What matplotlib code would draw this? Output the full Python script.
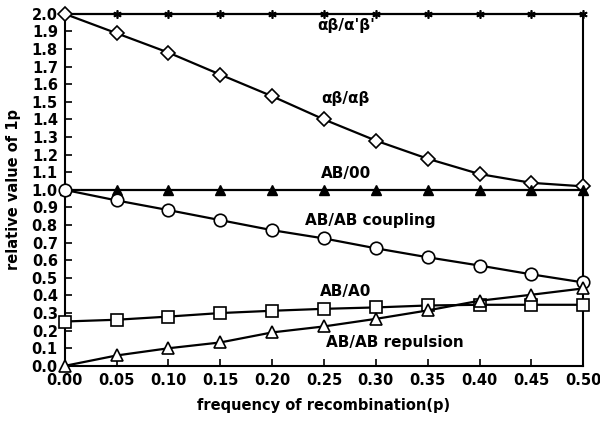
import matplotlib
matplotlib.use("Agg")
import matplotlib.pyplot as plt
import numpy as np

p = [0.00, 0.05, 0.10, 0.15, 0.20, 0.25, 0.30, 0.35, 0.40, 0.45, 0.50]
ab_apbp = [2.0] * 11
ab_ab = [2.0, 1.89, 1.78, 1.655, 1.532, 1.40, 1.28, 1.177, 1.09, 1.04, 1.02]
ab_00 = [1.0] * 11
coupling = [1.0, 0.94, 0.885, 0.828, 0.771, 0.724, 0.668, 0.617, 0.570, 0.52, 0.474]
ab_a0 = [0.252, 0.262, 0.28, 0.30, 0.313, 0.324, 0.332, 0.343, 0.347, 0.347, 0.347]
repulsion = [0.0, 0.059, 0.10, 0.133, 0.19, 0.224, 0.267, 0.315, 0.37, 0.404, 0.44]

xticks = [0.00, 0.05, 0.10, 0.15, 0.20, 0.25, 0.30, 0.35, 0.40, 0.45, 0.50]
xticklabels = ["0.00", "0.05", "0.10", "0.15", "0.20", "0.25", "0.30", "0.35", "0.40", "0.45", "0.50"]
yticks = [round(0.1 * i, 1) for i in range(21)]
yticklabels = ["%.1f" % v for v in yticks]

plt.rcParams['font.family'] = ['DejaVu Sans']
plt.rcParams['font.weight'] = 'bold'

fig = plt.figure(figsize=(6.0, 4.21), dpi=100)
ax = fig.add_axes([0.108, 0.131, 0.864, 0.836])

lw = 1.6
common = dict(color='black', lw=lw, clip_on=False, zorder=3)
ax.plot(p, ab_apbp, marker=(6, 2, 0), ms=6, mew=1.2, **common)
ax.plot(p, ab_ab, marker='D', ms=7, mfc='white', mec='black', mew=1.2, **common)
ax.plot(p, ab_00, marker='^', ms=7, mfc='black', mec='black', **common)
ax.plot(p, coupling, marker='o', ms=9, mfc='white', mec='black', mew=1.2, **common)
ax.plot(p, ab_a0, marker='s', ms=8, mfc='white', mec='black', mew=1.2, **common)
ax.plot(p, repulsion, marker='^', ms=8, mfc='white', mec='black', mew=1.2, **common)

ax.set_xlim(0, 0.5)
ax.set_ylim(0, 2.0)
ax.set_xticks(xticks)
ax.set_xticklabels(xticklabels)
ax.set_yticks(yticks)
ax.set_yticklabels(yticklabels)
ax.tick_params(direction='in', length=5, width=1.2, labelsize=10.5, pad=5)
for lab in ax.get_xticklabels() + ax.get_yticklabels():
    lab.set_fontweight('bold')
ax.spines['top'].set_visible(False)
for s in ['left', 'right', 'bottom']:
    ax.spines[s].set_linewidth(1.5)

tkw = dict(fontsize=11, fontweight='bold', ha='center', va='center')
ax.text(0.271, 1.935, "αβ/α'β'", **tkw)
ax.text(0.271, 1.52, "αβ/αβ", **tkw)
ax.text(0.271, 1.095, "AB/00", **tkw)
ax.text(0.295, 0.825, "AB/AB coupling", **tkw)
ax.text(0.271, 0.425, "AB/A0", **tkw)
ax.text(0.318, 0.13, "AB/AB repulsion", **tkw)

ax.set_xlabel("frequency of recombination(p)", fontsize=10.5, fontweight='bold', labelpad=7)
ax.set_ylabel("relative value of 1p", fontsize=10.5, fontweight='bold', labelpad=8)

fig.savefig("out.png", dpi=100)
